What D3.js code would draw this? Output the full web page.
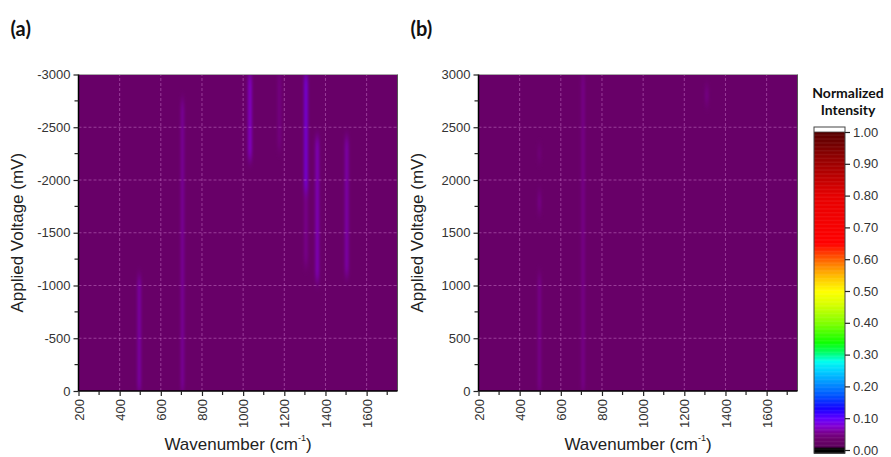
<!DOCTYPE html>
<html><head><meta charset="utf-8">
<script src="https://cdn.jsdelivr.net/npm/d3@7"></script>
<style>body{margin:0;background:#fff}svg{display:block}</style>
</head><body>
<script>
// ---- data ----
const xTicks = [200,400,600,800,1000,1200,1400,1600];
const xMinor = [300,500,700,900,1100,1300,1500,1700];
const yTicksA = [0,-500,-1000,-1500,-2000,-2500,-3000];
const yTicksB = [0,500,1000,1500,2000,2500,3000];
const backgroundIntensity = 0.03;
// peaks: [wavenumber, voltage start, voltage end, intensity, width cm-1]
const peaksA = [
  [495, 0, -1080, 0.065, 14],
  [705, 0, -2750, 0.06, 14],
  [1033, -2200, -3000, 0.075, 16],
  [1176, -2300, -3000, 0.05, 14],
  [1305, -1900, -3000, 0.085, 16],
  [1305, -1200, -1900, 0.055, 16],
  [1360, -1050, -2400, 0.07, 16],
  [1503, -1100, -2400, 0.065, 16]
];
const peaksB = [
  [496, 0, 1100, 0.055, 14],
  [496, 1700, 1880, 0.055, 14],
  [496, 2200, 2300, 0.05, 14],
  [708, 0, 3000, 0.055, 14],
  [1309, 2730, 2880, 0.055, 14]
];
const cbTicks = [0,0.1,0.2,0.3,0.4,0.5,0.6,0.7,0.8,0.9,1.0];
const cbStops = [-0.02,0.006,0.012,0.035,0.055,0.075,0.1,0.13,0.17,0.21,0.25,0.28,0.31,0.34,0.4,0.46,0.5,0.54,0.58,0.62,0.65,0.8,0.9,1.0];
const cbColors = ['#000000','#000000','#5e005e','#6b006b','#78008e','#8400d0','#6400ff','#1800ff','#0050ff','#0090ff','#00d0ff','#00ffee','#00ff60','#10ff00','#80ff00','#d8ff00','#ffff00','#ffc800','#ff8800','#ff3c00','#ff0000','#e60000','#a00000','#580000'];

// ---- drawing ----
const W = 891, H = 457;
const svg = d3.select("body").append("svg").attr("width", W).attr("height", H);
const color = d3.scaleLinear().domain(cbStops).range(cbColors).clamp(true);
const defs = svg.append("defs");
defs.append("filter").attr("id","blur").attr("x","-50%").attr("y","-10%").attr("width","200%").attr("height","120%")
  .append("feGaussianBlur").attr("stdDeviation","1.4 6");

const fontAx = "'Liberation Sans', Arial, sans-serif";
const fontBold = "Lato, 'Open Sans', sans-serif";
const fmt = d => String(d);

function panel(id, x0, yDomain, yTicks, peaks, label) {
  const x = d3.scaleLinear().domain([200, 1750]).range([x0, x0 + 319]);
  const y = d3.scaleLinear().domain(yDomain).range([391, 74.5]);
  const g = svg.append("g");
  defs.append("clipPath").attr("id", "clip" + id).append("rect")
    .attr("x", x(200)).attr("y", y(yDomain[1])).attr("width", x(1750) - x(200)).attr("height", y(yDomain[0]) - y(yDomain[1]));
  const plot = g.append("g").attr("clip-path", `url(#clip${id})`);
  plot.append("rect").attr("x", x(200)).attr("y", y(yDomain[1]))
    .attr("width", x(1750) - x(200)).attr("height", y(yDomain[0]) - y(yDomain[1]))
    .attr("fill", color(backgroundIntensity));
  plot.append("g").attr("filter", "url(#blur)").selectAll("rect").data(peaks).join("rect")
    .attr("x", d => x(d[0] - d[4] / 2)).attr("width", d => x(d[0] + d[4] / 2) - x(d[0] - d[4] / 2))
    .attr("y", d => Math.min(y(d[1]), y(d[2]))).attr("height", d => Math.abs(y(d[1]) - y(d[2])))
    .attr("fill", d => color(d[3]));
  // grid
  const grid = g.append("g").attr("stroke", "#d98ad9").attr("stroke-opacity", 0.55).attr("stroke-width", 0.8).attr("stroke-dasharray", "3,2");
  grid.selectAll("line.v").data(xTicks.slice(1)).join("line")
    .attr("x1", d => x(d)).attr("x2", d => x(d)).attr("y1", y(yDomain[0])).attr("y2", y(yDomain[1]));
  grid.selectAll("line.h").data(yTicks.slice(1, -1)).join("line").attr("class","h")
    .attr("y1", d => y(d)).attr("y2", d => y(d)).attr("x1", x(200)).attr("x2", x(1750));
  // frame top/right
  g.append("line").attr("x1", x(200)).attr("x2", x(1750)).attr("y1", y(yDomain[1])).attr("y2", y(yDomain[1])).attr("stroke", "#aaa").attr("stroke-width", 1);
  g.append("line").attr("x1", x(1750)).attr("x2", x(1750)).attr("y1", y(yDomain[1])).attr("y2", y(yDomain[0])).attr("stroke", "#555").attr("stroke-width", 1);
  // x axis
  const xa = g.append("g").attr("transform", `translate(0,${y(yDomain[0])})`)
    .call(d3.axisBottom(x).tickValues(xTicks).tickSize(5).tickFormat(fmt));
  xa.select(".domain").attr("stroke", "#000").attr("stroke-width", 1.5).attr("d", `M${x(200)},0H${x(1750)}`);
  xa.selectAll(".tick line").attr("stroke", "#222").attr("stroke-width", 1.2);
  xa.selectAll(".tick text").attr("transform", "rotate(-90)").attr("text-anchor", "end")
    .attr("x", -8).attr("y", 0).attr("dy", "0.35em").attr("font-size", 13).attr("font-family", fontAx).attr("fill", "#333");
  xa.append("g").selectAll("line").data(xMinor).join("line")
    .attr("x1", d => x(d)).attr("x2", d => x(d)).attr("y1", 0).attr("y2", 4).attr("stroke", "#222").attr("stroke-width", 1.2);
  // y axis
  const minorY = d3.range(0, 3001, 250).filter(v => v % 500 !== 0).map(v => yDomain[1] < 0 ? -v : v);
  const ya = g.append("g").attr("transform", `translate(${x(200)},0)`)
    .call(d3.axisLeft(y).tickValues(yTicks).tickSize(5).tickFormat(fmt));
  ya.select(".domain").attr("stroke", "#000").attr("stroke-width", 1.5).attr("d", `M0,${y(yDomain[1])}V${y(yDomain[0])}`);
  ya.selectAll(".tick line").attr("stroke", "#222").attr("stroke-width", 1.2);
  ya.selectAll(".tick text").attr("x", -8).attr("font-size", 13).attr("font-family", fontAx).attr("fill", "#333");
  ya.append("g").selectAll("line").data(minorY).join("line")
    .attr("y1", d => y(d)).attr("y2", d => y(d)).attr("x1", 0).attr("x2", -4).attr("stroke", "#222").attr("stroke-width", 1.2);
  // labels
  const xl = g.append("text").attr("x", (x(200) + x(1750)) / 2).attr("y", 450).attr("text-anchor", "middle")
    .attr("font-size", 17).attr("font-family", fontAx).attr("fill", "#222");
  xl.append("tspan").text("Wavenumber (cm");
  xl.append("tspan").attr("font-size", 9).attr("dy", -9).text("-1");
  xl.append("tspan").attr("dy", 9).text(")");
  g.append("text").attr("transform", `translate(${x0 - 56},${(y(yDomain[0]) + y(yDomain[1])) / 2}) rotate(-90)`)
    .attr("text-anchor", "middle").attr("font-size", 17).attr("font-family", fontAx).attr("fill", "#222")
    .text("Applied Voltage (mV)");
  g.append("text").attr("x", x0 - 68).attr("y", 36).attr("font-size", 20).attr("font-weight", "bold")
    .attr("font-family", fontBold).attr("fill", "#111").text(label);
}

panel("a", 78.5, [0, -3000], yTicksA, peaksA, "(a)");
panel("b", 478.5, [0, 3000], yTicksB, peaksB, "(b)");

// colorbar
const cy = d3.scaleLinear().domain([0, 1]).range([450, 132]);
const cb = svg.append("g");
const cbX = 814, cbW = 31;
const steps = d3.range(-0.01, 1.0, 0.0025);
cb.selectAll("rect.s").data(steps).join("rect")
  .attr("x", cbX).attr("width", cbW).attr("y", d => cy(d + 0.0025)).attr("height", cy(0) - cy(0.0025) + 0.5)
  .attr("fill", d => color(d + 0.00125));
cb.append("rect").attr("x", cbX).attr("width", cbW).attr("y", 127).attr("height", cy(1) - 127).attr("fill", "#fff");
cb.append("rect").attr("x", cbX).attr("width", cbW).attr("y", 127).attr("height", cy(-0.01) - 127)
  .attr("fill", "none").attr("stroke", "#444").attr("stroke-width", 1);
cb.append("line").attr("x1", cbX).attr("x2", cbX + cbW).attr("y1", cy(1)).attr("y2", cy(1)).attr("stroke", "#444").attr("stroke-width", 0.8);
const cba = cb.append("g").attr("transform", `translate(${cbX + cbW},0)`)
  .call(d3.axisRight(cy).tickValues(cbTicks).tickSize(5).tickFormat(d3.format(".2f")));
cba.select(".domain").remove();
cba.selectAll(".tick line").attr("stroke", "#222").attr("stroke-width", 1.2);
cba.selectAll(".tick text").attr("x", 8).attr("font-size", 13).attr("font-family", fontAx).attr("fill", "#333");
cb.append("text").attr("x", 848).attr("y", 98).attr("text-anchor", "middle").attr("font-size", 14)
  .attr("font-weight", "bold").attr("font-family", fontBold).attr("fill", "#111").text("Normalized");
cb.append("text").attr("x", 848).attr("y", 115).attr("text-anchor", "middle").attr("font-size", 14)
  .attr("font-weight", "bold").attr("font-family", fontBold).attr("fill", "#111").text("Intensity");
</script>
</body></html>
